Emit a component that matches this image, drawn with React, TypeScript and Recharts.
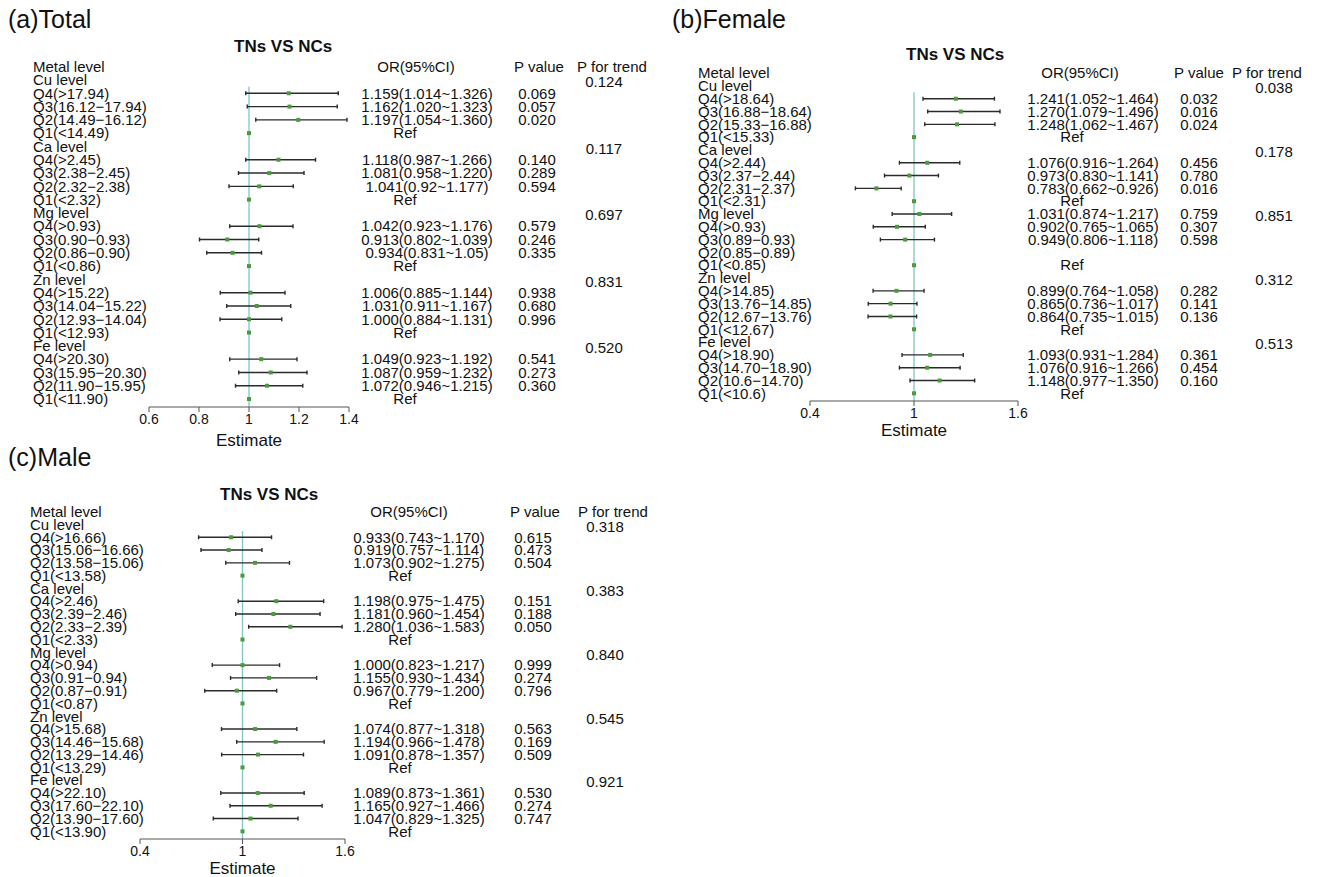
import {
  ErrorBar,
  ReferenceLine,
  Scatter,
  ScatterChart,
  XAxis,
  YAxis,
} from "recharts";

const N = null;

// (a) Total
const totalLabels = [
  "Cu level", "Q4(>17.94)", "Q3(16.12−17.94)", "Q2(14.49−16.12)", "Q1(<14.49)",
  "Ca level", "Q4(>2.45)", "Q3(2.38−2.45)", "Q2(2.32−2.38)", "Q1(<2.32)",
  "Mg level", "Q4(>0.93)", "Q3(0.90−0.93)", "Q2(0.86−0.90)", "Q1(<0.86)",
  "Zn level", "Q4(>15.22)", "Q3(14.04−15.22)", "Q2(12.93−14.04)", "Q1(<12.93)",
  "Fe level", "Q4(>20.30)", "Q3(15.95−20.30)", "Q2(11.90−15.95)", "Q1(<11.90)",
];
const totalOr = [
  "", "1.159(1.014~1.326)", "1.162(1.020~1.323)", "1.197(1.054~1.360)", "Ref",
  "", "1.118(0.987~1.266)", "1.081(0.958~1.220)", "1.041(0.92~1.177)", "Ref",
  "", "1.042(0.923~1.176)", "0.913(0.802~1.039)", "0.934(0.831~1.05)", "Ref",
  "", "1.006(0.885~1.144)", "1.031(0.911~1.167)", "1.000(0.884~1.131)", "Ref",
  "", "1.049(0.923~1.192)", "1.087(0.959~1.232)", "1.072(0.946~1.215)", "Ref",
];
const totalP = [
  "", "0.069", "0.057", "0.020", "",
  "", "0.140", "0.289", "0.594", "",
  "", "0.579", "0.246", "0.335", "",
  "", "0.938", "0.680", "0.996", "",
  "", "0.541", "0.273", "0.360", "",
];
const totalTrend = ["0.124", "0.117", "0.697", "0.831", "0.520"];
const totalEst = [
  N, 1.159, 1.162, 1.197, 1, N, 1.118, 1.081, 1.041, 1, N, 1.042, 0.913, 0.934, 1,
  N, 1.006, 1.031, 1.0, 1, N, 1.049, 1.087, 1.072, 1,
];
const totalLo = [
  N, 0.987, 0.993, 1.027, N, N, 0.987, 0.958, 0.92, N, N, 0.923, 0.802, 0.831, N,
  N, 0.885, 0.911, 0.884, N, N, 0.923, 0.959, 0.946, N,
];
const totalHi = [
  N, 1.357, 1.353, 1.392, N, N, 1.266, 1.22, 1.177, N, N, 1.176, 1.039, 1.05, N,
  N, 1.144, 1.167, 1.131, N, N, 1.192, 1.232, 1.215, N,
];
const totalTicks = [0.6, 0.8, 1, 1.2, 1.4];

// (b) Female
const femaleLabels = [
  "Cu level", "Q4(>18.64)", "Q3(16.88−18.64)", "Q2(15.33−16.88)", "Q1(<15.33)",
  "Ca level", "Q4(>2.44)", "Q3(2.37−2.44)", "Q2(2.31−2.37)", "Q1(<2.31)",
  "Mg level", "Q4(>0.93)", "Q3(0.89−0.93)", "Q2(0.85−0.89)", "Q1(<0.85)",
  "Zn level", "Q4(>14.85)", "Q3(13.76−14.85)", "Q2(12.67−13.76)", "Q1(<12.67)",
  "Fe level", "Q4(>18.90)", "Q3(14.70−18.90)", "Q2(10.6−14.70)", "Q1(<10.6)",
];
const femaleOr = [
  "", "1.241(1.052~1.464)", "1.270(1.079~1.496)", "1.248(1.062~1.467)", "Ref",
  "", "1.076(0.916~1.264)", "0.973(0.830~1.141)", "0.783(0.662~0.926)", "Ref",
  "1.031(0.874~1.217)", "0.902(0.765~1.065)", "0.949(0.806~1.118)", "", "Ref",
  "", "0.899(0.764~1.058)", "0.865(0.736~1.017)", "0.864(0.735~1.015)", "Ref",
  "", "1.093(0.931~1.284)", "1.076(0.916~1.266)", "1.148(0.977~1.350)", "Ref",
];
const femaleP = [
  "", "0.032", "0.016", "0.024", "",
  "", "0.456", "0.780", "0.016", "",
  "0.759", "0.307", "0.598", "", "",
  "", "0.282", "0.141", "0.136", "",
  "", "0.361", "0.454", "0.160", "",
];
const femaleTrend = ["0.038", "0.178", "0.851", "0.312", "0.513"];
const femaleEst = [
  N, 1.241, 1.27, 1.248, 1, N, 1.076, 0.973, 0.783, 1, 1.031, 0.902, 0.949, N, 1,
  N, 0.899, 0.865, 0.864, 1, N, 1.093, 1.076, 1.148, 1,
];
const femaleLo = [
  N, 1.052, 1.079, 1.062, N, N, 0.916, 0.83, 0.662, N, 0.874, 0.765, 0.806, N, N,
  N, 0.764, 0.736, 0.735, N, N, 0.931, 0.916, 0.977, N,
];
const femaleHi = [
  N, 1.464, 1.496, 1.467, N, N, 1.264, 1.141, 0.926, N, 1.217, 1.065, 1.118, N, N,
  N, 1.058, 1.017, 1.015, N, N, 1.284, 1.266, 1.35, N,
];
const femaleTicks = [0.4, 1, 1.6];

// (c) Male
const maleLabels = [
  "Cu level", "Q4(>16.66)", "Q3(15.06−16.66)", "Q2(13.58−15.06)", "Q1(<13.58)",
  "Ca level", "Q4(>2.46)", "Q3(2.39−2.46)", "Q2(2.33−2.39)", "Q1(<2.33)",
  "Mg level", "Q4(>0.94)", "Q3(0.91−0.94)", "Q2(0.87−0.91)", "Q1(<0.87)",
  "Zn level", "Q4(>15.68)", "Q3(14.46−15.68)", "Q2(13.29−14.46)", "Q1(<13.29)",
  "Fe level", "Q4(>22.10)", "Q3(17.60−22.10)", "Q2(13.90−17.60)", "Q1(<13.90)",
];
const maleOr = [
  "", "0.933(0.743~1.170)", "0.919(0.757~1.114)", "1.073(0.902~1.275)", "Ref",
  "", "1.198(0.975~1.475)", "1.181(0.960~1.454)", "1.280(1.036~1.583)", "Ref",
  "", "1.000(0.823~1.217)", "1.155(0.930~1.434)", "0.967(0.779~1.200)", "Ref",
  "", "1.074(0.877~1.318)", "1.194(0.966~1.478)", "1.091(0.878~1.357)", "Ref",
  "", "1.089(0.873~1.361)", "1.165(0.927~1.466)", "1.047(0.829~1.325)", "Ref",
];
const maleP = [
  "", "0.615", "0.473", "0.504", "",
  "", "0.151", "0.188", "0.050", "",
  "", "0.999", "0.274", "0.796", "",
  "", "0.563", "0.169", "0.509", "",
  "", "0.530", "0.274", "0.747", "",
];
const maleTrend = ["0.318", "0.383", "0.840", "0.545", "0.921"];
const maleEst = [
  N, 0.933, 0.919, 1.073, 1, N, 1.198, 1.181, 1.28, 1, N, 1.0, 1.155, 0.967, 1,
  N, 1.074, 1.194, 1.091, 1, N, 1.089, 1.165, 1.047, 1,
];
const maleLo = [
  N, 0.743, 0.757, 0.902, N, N, 0.975, 0.96, 1.036, N, N, 0.823, 0.93, 0.779, N,
  N, 0.877, 0.966, 0.878, N, N, 0.873, 0.927, 0.829, N,
];
const maleHi = [
  N, 1.17, 1.114, 1.275, N, N, 1.475, 1.454, 1.583, N, N, 1.217, 1.434, 1.2, N,
  N, 1.318, 1.478, 1.357, N, N, 1.361, 1.466, 1.325, N,
];
const maleTicks = [0.4, 1, 1.6];

const FONT = "'Liberation Sans', Arial, Helvetica, sans-serif";
const GREEN = "#4a9b3c";
const TEAL = "#7cc6cc";
const rowTicks = Array.from({ length: 26 }, (_, i) => i - 1);

type Cols = {
  label: number;
  orHead: number;
  or: number;
  ref: number;
  pHead: number;
  p: number;
  trendHead: number;
  trend: number;
};

function Panel({
  left,
  top,
  width,
  height,
  plot,
  cols,
  domain,
  ticks,
  labels,
  orText,
  pText,
  trend,
  est,
  lo,
  hi,
}: {
  left: number;
  top: number;
  width: number;
  height: number;
  plot: { l: number; r: number; t: number; b: number; xh: number };
  cols: Cols;
  domain: [number, number];
  ticks: number[];
  labels: string[];
  orText: string[];
  pText: string[];
  trend: string[];
  est: (number | null)[];
  lo: (number | null)[];
  hi: (number | null)[];
}) {
  const points = est
    .map((v, i) => ({
      row: i,
      est: v,
      err: v != null && lo[i] != null ? [v - (lo[i] as number), (hi[i] as number) - v] : null,
    }))
    .filter((d) => d.est != null);

  const txt = { fontFamily: FONT, fontSize: 15, fill: "#111" };

  const renderRow = (p: any) => {
    const r = p.payload.value as number;
    const y = p.y;
    if (r === -1) {
      return (
        <g>
          <text {...txt} x={cols.label} y={y} dy="0.35em">Metal level</text>
          <text {...txt} x={cols.orHead} y={y} dy="0.35em" textAnchor="middle">OR(95%CI)</text>
          <text {...txt} x={cols.pHead} y={y} dy="0.35em" textAnchor="middle">P value</text>
          <text {...txt} x={cols.trendHead} y={y} dy="0.35em" textAnchor="middle">P for trend</text>
        </g>
      );
    }
    const isRef = orText[r] === "Ref";
    const tr = r % 5 === 0 ? trend[r / 5] : "";
    return (
      <g>
        <text {...txt} x={cols.label} y={y} dy="0.35em">{labels[r]}</text>
        <text {...txt} x={isRef ? cols.ref : cols.or} y={y} dy="0.35em" textAnchor="middle">
          {orText[r]}
        </text>
        <text {...txt} x={cols.p} y={y} dy="0.35em" textAnchor="middle">{pText[r]}</text>
        {tr && (
          <text {...txt} x={cols.trend} y={y + 2} dy="0.35em" textAnchor="middle">{tr}</text>
        )}
      </g>
    );
  };

  return (
    <div style={{ position: "absolute", left, top }}>
      <ScatterChart
        width={width}
        height={height}
        margin={{
          top: plot.t,
          left: plot.l - 10,
          right: width - plot.r,
          bottom: height - plot.b - plot.xh,
        }}
      >
        <XAxis
          type="number"
          dataKey="est"
          domain={domain}
          ticks={ticks}
          allowDataOverflow
          height={plot.xh}
          tickSize={5}
          stroke="#555"
          tick={{ fill: "#111", fontSize: 14, fontFamily: FONT }}
          label={{
            value: "Estimate",
            position: "bottom",
            offset: 0,
            style: { fill: "#111", fontSize: 17, fontFamily: FONT },
          }}
        />
        <YAxis
          type="number"
          dataKey="row"
          domain={[-1, 24.6]}
          reversed
          ticks={rowTicks}
          interval={0}
          width={10}
          axisLine={false}
          tickLine={false}
          tick={renderRow}
        />
        <ReferenceLine
          segment={[
            { x: 1, y: 0.5 },
            { x: 1, y: 24.6 },
          ]}
          stroke={TEAL}
          strokeWidth={1.3}
        />
        <Scatter
          data={points}
          isAnimationActive={false}
          shape={(s: any) => (
            <rect x={s.cx - 2} y={s.cy - 2} width={4} height={4} fill={GREEN} />
          )}
        >
          <ErrorBar
            dataKey="err"
            direction="x"
            width={2}
            stroke="#2b2b2b"
            strokeWidth={1.4}
            isAnimationActive={false}
          />
        </Scatter>
      </ScatterChart>
    </div>
  );
}

const titleStyle = (left: number, top: number, size: number, bold = false) => ({
  position: "absolute" as const,
  left,
  top,
  fontFamily: FONT,
  fontSize: size,
  fontWeight: bold ? 700 : 400,
  lineHeight: 1,
  whiteSpace: "nowrap" as const,
  color: "#111",
});

export default function App() {
  return (
    <div
      style={{
        position: "absolute",
        left: 0,
        top: 0,
        width: 1322,
        height: 877,
        background: "#fff",
        overflow: "hidden",
      }}
    >
      <div style={titleStyle(8, 7, 25)}>(a)Total</div>
      <div style={titleStyle(672, 7, 25)}>(b)Female</div>
      <div style={titleStyle(8, 445, 25)}>(c)Male</div>
      <div style={{ ...titleStyle(234, 38, 17, true) }}>TNs VS NCs</div>
      <div style={{ ...titleStyle(906, 46, 17, true) }}>TNs VS NCs</div>
      <div style={{ ...titleStyle(220, 486, 17, true) }}>TNs VS NCs</div>

      <Panel
        left={0}
        top={0}
        width={660}
        height={460}
        plot={{ l: 149, r: 349, t: 66.7, b: 407, xh: 27 }}
        cols={{ label: 33, orHead: 416, or: 427, ref: 405, pHead: 539, p: 537, trendHead: 612, trend: 604 }}
        domain={[0.6, 1.4]}
        ticks={totalTicks}
        labels={totalLabels}
        orText={totalOr}
        pText={totalP}
        trend={totalTrend}
        est={totalEst}
        lo={totalLo}
        hi={totalHi}
      />
      <Panel
        left={680}
        top={0}
        width={640}
        height={450}
        plot={{ l: 130, r: 338, t: 73.1, b: 401, xh: 23 }}
        cols={{ label: 18, orHead: 400, or: 413, ref: 392, pHead: 519, p: 519, trendHead: 587, trend: 594 }}
        domain={[0.4, 1.6]}
        ticks={femaleTicks}
        labels={femaleLabels}
        orText={femaleOr}
        pText={femaleP}
        trend={femaleTrend}
        est={femaleEst}
        lo={femaleLo}
        hi={femaleHi}
      />
      <Panel
        left={0}
        top={450}
        width={660}
        height={427}
        plot={{ l: 140, r: 345, t: 61.7, b: 389, xh: 23 }}
        cols={{ label: 30, orHead: 409, or: 419, ref: 400, pHead: 535, p: 533, trendHead: 613, trend: 605 }}
        domain={[0.4, 1.6]}
        ticks={maleTicks}
        labels={maleLabels}
        orText={maleOr}
        pText={maleP}
        trend={maleTrend}
        est={maleEst}
        lo={maleLo}
        hi={maleHi}
      />
    </div>
  );
}
